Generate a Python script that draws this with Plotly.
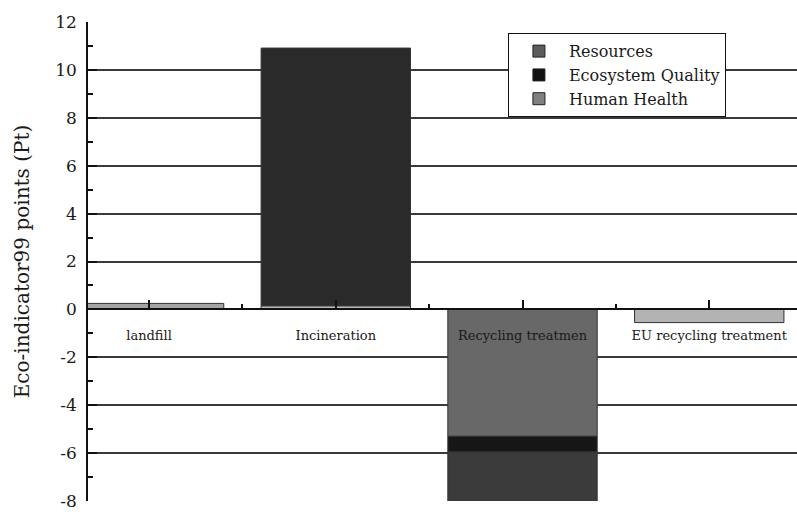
import plotly.graph_objects as go

categories = ["landfill", "Incineration", "Recycling treatmen", "EU recycling treatment"]
x_pos = [0, 1, 2, 3]
resources = [0.0, 0.15, -5.3, -0.55]
ecosystem = [0.0, 10.75, -0.65, 0.0]
human_health = [0.25, 0.0, -2.15, 0.0]
series_names = ["Resources", "Ecosystem Quality", "Human Health"]
legend_colors = ["#5c5c5c", "#121212", "#808080"]

y_ticks = [-8, -6, -4, -2, 0, 2, 4, 6, 8, 10, 12]
y_tick_text = ["-8", "-6", "-4", "-2", "0", "2", "4", "6", "8", "10", "12"]
grid_vals = [-6, -4, -2, 2, 4, 6, 8, 10]

FONT = "DejaVu Serif"
fig = go.Figure()

seg_colors = [
    ["#a4a4a4", "#bdbdbd", "#686868", "#b3b3b3"],
    ["#222222", "#2a2a2a", "#161616", "#222222"],
    ["#a4a4a4", "#8a8a8a", "#3b3b3b", "#8a8a8a"],
]
for vals, cols in zip([resources, ecosystem, human_health], seg_colors):
    fig.add_trace(go.Bar(x=x_pos, y=vals, width=0.8, showlegend=False,
                         marker=dict(color=cols, line=dict(color="#333333", width=1))))

for name, c in zip(series_names, legend_colors):
    fig.add_trace(go.Bar(x=[None], y=[None], name=name,
                         marker=dict(color=c, line=dict(color="#222222", width=1))))

# grid-only overlay axis
fig.add_trace(go.Scatter(x=[None], y=[None], yaxis="y2", showlegend=False))

fig.update_layout(
    width=797, height=512,
    margin=dict(l=88, r=0, t=22, b=11),
    paper_bgcolor="white", plot_bgcolor="white",
    barmode="relative",
    font=dict(family=FONT, color="#1a1a1a"),
    xaxis=dict(range=[-0.327, 3.47], tickvals=x_pos, ticktext=categories,
               anchor="free", position=0.4, showline=True, linecolor="#111111",
               linewidth=1.5, ticks="inside", ticklen=9, tickcolor="#111111",
               tickwidth=1.5, showgrid=False, zeroline=False, automargin=False,
               tickfont=dict(size=13, family=FONT), ticklabelstandoff=14,
               ticklabeloverflow="allow",
               minor=dict(dtick=0.5, tick0=0.5, ticks="inside", ticklen=5,
                          tickcolor="#111111", tickwidth=1.5)),
    yaxis=dict(range=[-8, 12], tickvals=y_ticks, ticktext=y_tick_text,
               showline=True, linecolor="#111111", automargin=False,
               linewidth=1.5, ticks="inside", ticklen=9, tickcolor="#111111",
               tickwidth=1.5, showgrid=False, zeroline=False,
               tickfont=dict(size=17, family=FONT), ticklabelstandoff=6,
               ticklabeloverflow="allow",
               title=dict(text="Eco-indicator99 points (Pt)", font=dict(size=20, family=FONT),
                          standoff=20),
               minor=dict(dtick=1, ticks="inside", ticklen=5, tickcolor="#111111",
                          tickwidth=1.5)),
    yaxis2=dict(range=[-8, 12], overlaying="y", tickvals=grid_vals, showgrid=True,
                gridcolor="#3a3a3a", gridwidth=1.5, showticklabels=False,
                ticks="", zeroline=False, showline=False, automargin=False),
    legend=dict(x=0.592, y=0.977, xanchor="left", yanchor="top",
                bgcolor="white", bordercolor="#111111", borderwidth=1.2,
                font=dict(size=16, family=FONT), traceorder="normal",
                tracegroupgap=0, itemwidth=50),
)

fig.write_html("out.html", post_script="document.body.style.margin='0';",
               config={"displayModeBar": False})
